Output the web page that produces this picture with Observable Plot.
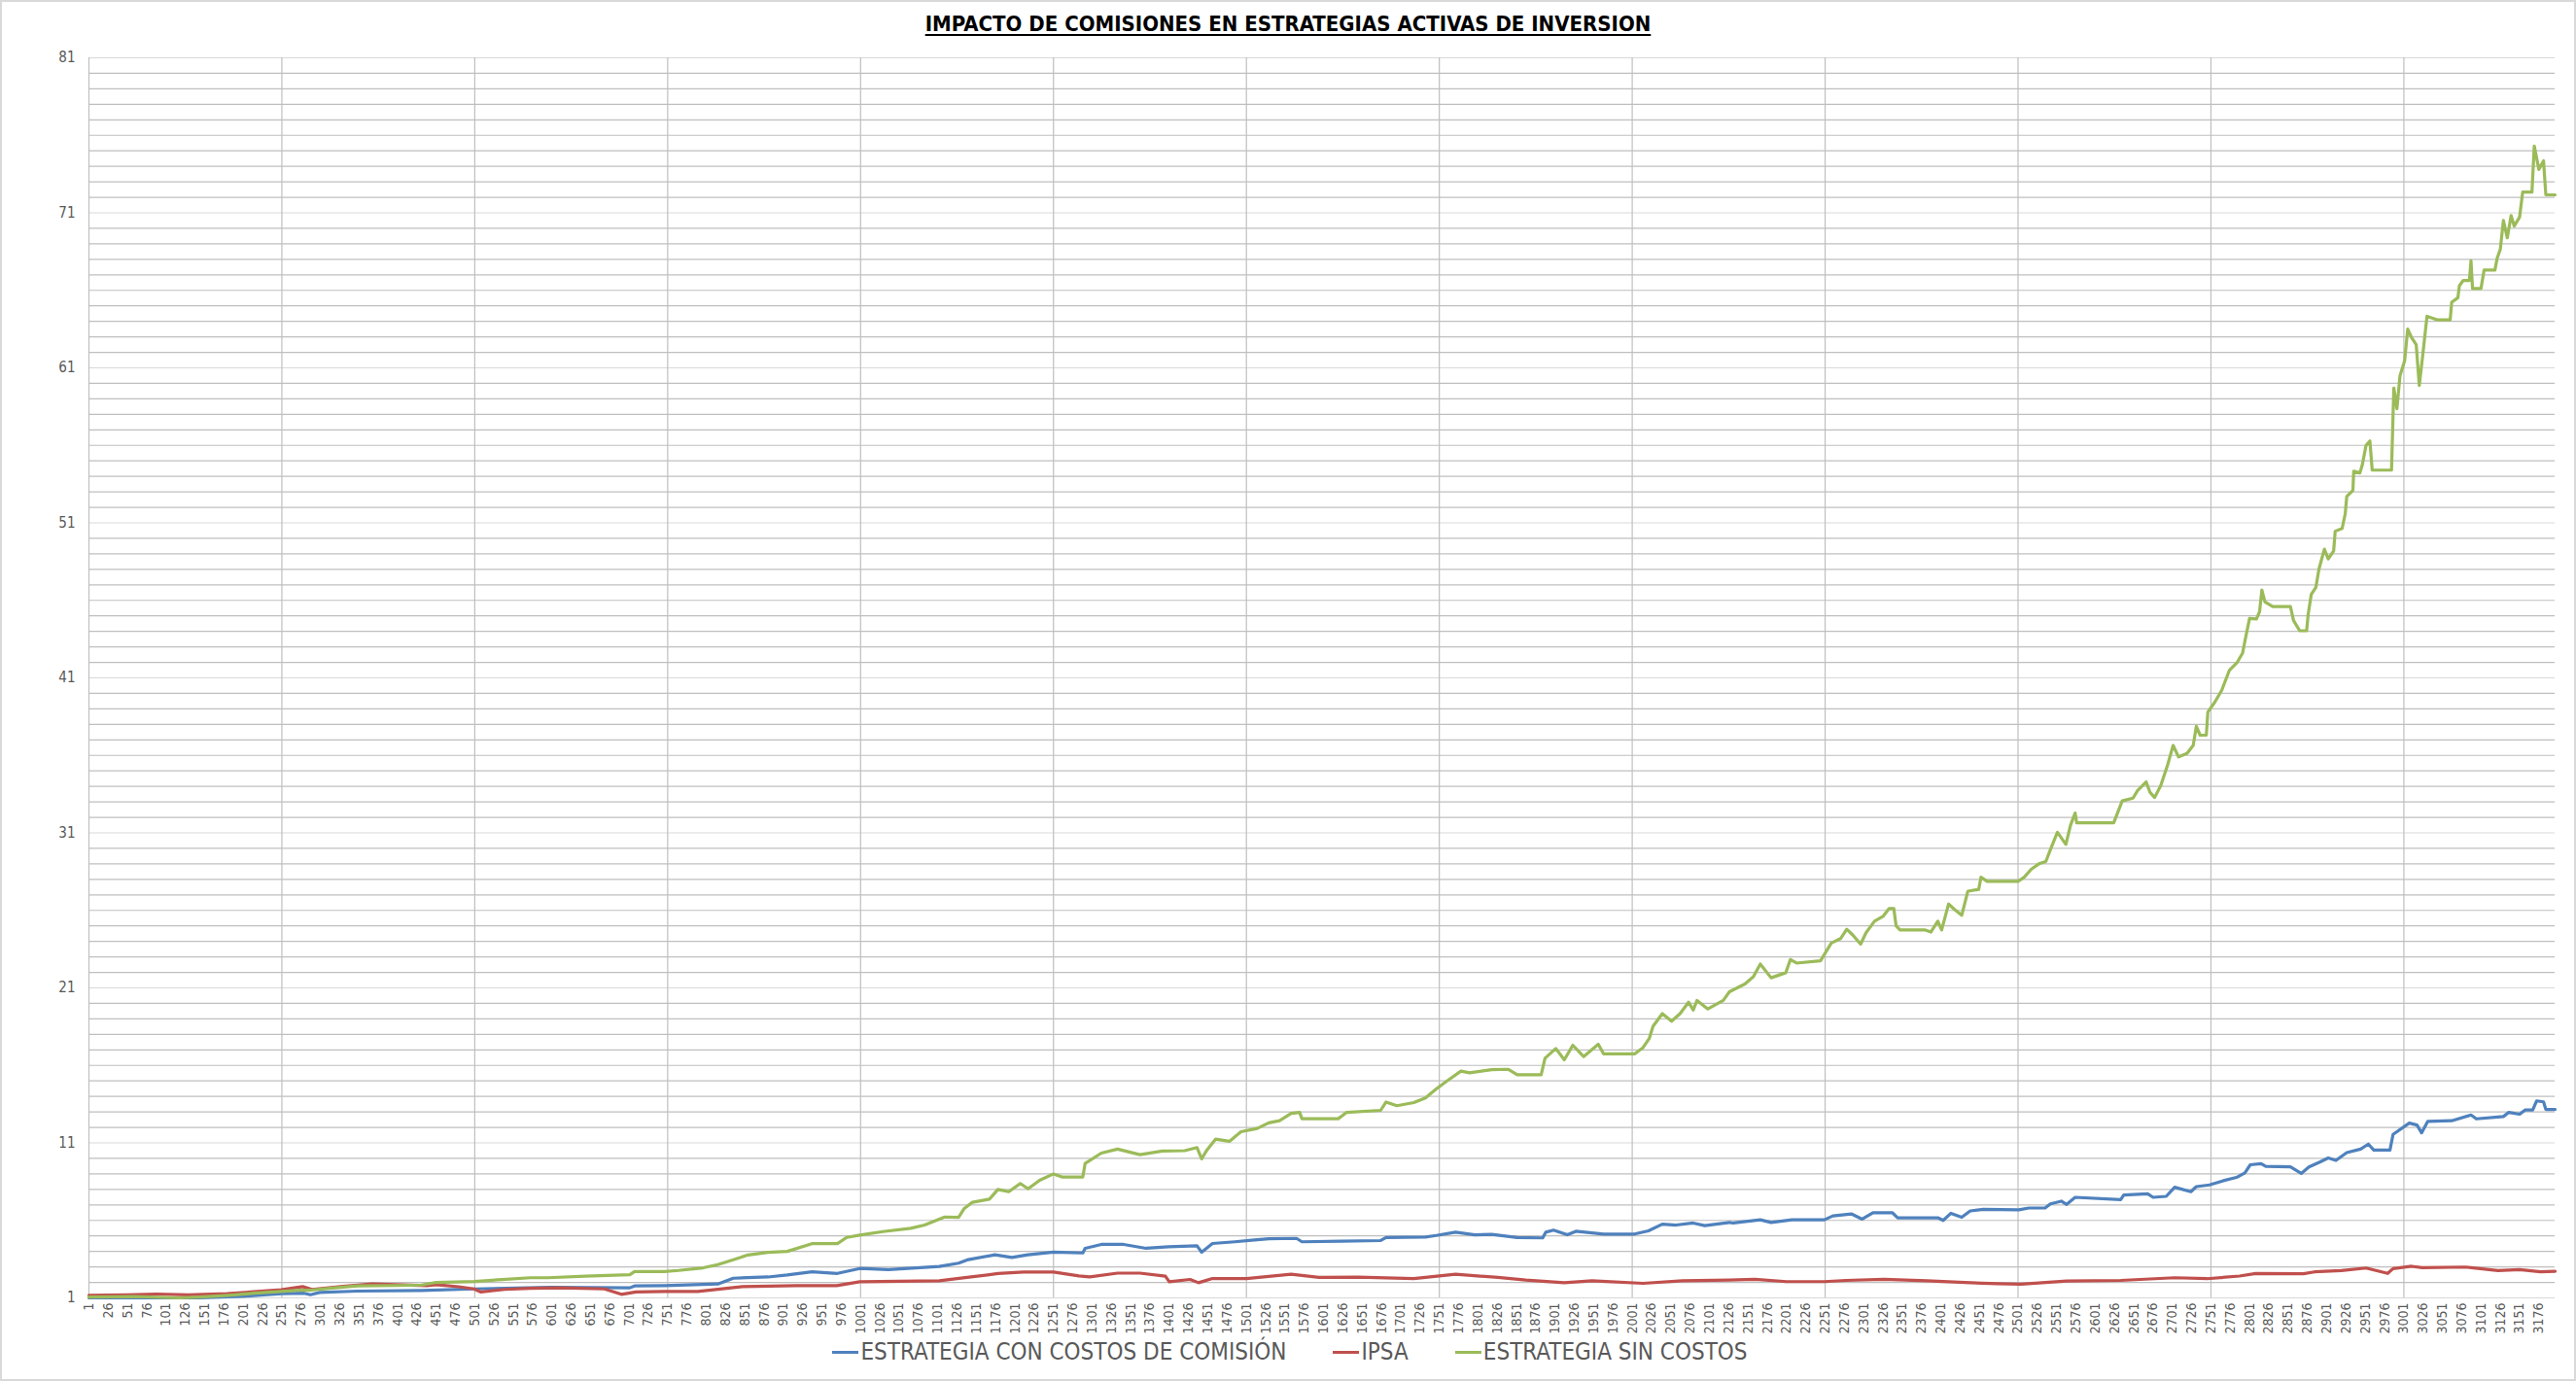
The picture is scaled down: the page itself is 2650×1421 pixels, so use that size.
<!DOCTYPE html>
<html>
<head>
<meta charset="utf-8">
<script src="https://cdn.jsdelivr.net/npm/d3@7"></script>
<script src="https://cdn.jsdelivr.net/npm/@observablehq/plot@0.6"></script>
<style>
  html, body { margin: 0; padding: 0; background: #fff; }
  #frame { position: relative; width: 2650px; height: 1421px; overflow: hidden; background: #fff;
    font-family: "Liberation Sans Narrow", "DejaVu Sans Condensed", "Liberation Sans", sans-serif; }
  #border { position: absolute; left: 0; top: 0; right: 0; bottom: 0; border: 2px solid #D9D9D9; box-sizing: border-box; pointer-events: none; }
  #title { height: 44px; box-sizing: border-box; padding-top: 12px; text-align: center; font-weight: bold; font-size: 22px;
    color: #000; text-decoration: underline; text-decoration-thickness: 2px; text-underline-offset: 3px; line-height: 26px; }
  #chart { height: 1331px; }
  #legend { display: flex; justify-content: center; align-items: center; height: 32px; font-size: 24px; color: #595959; gap: 0; padding-left: 4px; }
  .item { display: flex; align-items: center; margin: 0 24px; }
  .sw { width: 27px; height: 3px; margin-right: 2px; }
</style>
</head>
<body>
<div id="frame">
  <div id="title">IMPACTO DE COMISIONES EN ESTRATEGIAS ACTIVAS DE INVERSION</div>
  <div id="chart"></div>
  <div id="legend"></div>
  <div id="border"></div>
</div>
<script>
// ---- data ([day index, value]) ----
const seriesNames = ["ESTRATEGIA CON COSTOS DE COMISIÓN", "IPSA", "ESTRATEGIA SIN COSTOS"];
const seriesColors = ["#4F81BD", "#C0504D", "#9BBB59"];

const conCostos = [[1,1.0],[144,1.0],[200,1.1],[250,1.27],[280,1.3],[288,1.2],[300,1.35],[349,1.44],[432,1.48],[500,1.58],[599,1.69],[702,1.65],[708,1.77],[747,1.79],[816,1.9],[836,2.27],[881,2.35],[906,2.48],[938,2.69],[971,2.58],[1000,2.9],[1037,2.82],[1103,3.03],[1128,3.24],[1139,3.45],[1175,3.78],[1197,3.61],[1218,3.78],[1251,3.95],[1289,3.9],[1292,4.2],[1313,4.45],[1342,4.45],[1371,4.2],[1400,4.3],[1437,4.36],[1443,3.95],[1457,4.51],[1486,4.62],[1508,4.72],[1530,4.82],[1566,4.84],[1573,4.62],[1624,4.66],[1675,4.7],[1682,4.9],[1733,4.93],[1747,5.03],[1772,5.24],[1797,5.07],[1819,5.1],[1852,4.9],[1885,4.87],[1889,5.24],[1899,5.37],[1917,5.07],[1928,5.3],[1964,5.12],[2004,5.12],[2022,5.33],[2040,5.76],[2058,5.7],[2080,5.83],[2095,5.66],[2127,5.87],[2132,5.83],[2167,6.04],[2181,5.87],[2208,6.04],[2250,6.04],[2261,6.29],[2285,6.42],[2299,6.08],[2313,6.5],[2338,6.5],[2345,6.17],[2397,6.17],[2404,6.0],[2414,6.46],[2428,6.2],[2439,6.61],[2456,6.71],[2502,6.68],[2515,6.8],[2536,6.8],[2543,7.07],[2557,7.24],[2564,7.03],[2575,7.49],[2634,7.34],[2638,7.64],[2669,7.72],[2676,7.49],[2693,7.55],[2704,8.14],[2725,7.85],[2732,8.18],[2749,8.29],[2767,8.56],[2784,8.77],[2795,9.07],[2802,9.59],[2816,9.66],[2822,9.49],[2854,9.45],[2868,9.03],[2878,9.45],[2892,9.76],[2903,10.03],[2913,9.87],[2927,10.37],[2945,10.6],[2955,10.92],[2962,10.54],[2983,10.54],[2987,11.55],[3008,12.28],[3018,12.15],[3024,11.65],[3032,12.39],[3063,12.43],[3088,12.8],[3095,12.55],[3130,12.7],[3137,12.97],[3151,12.85],[3158,13.12],[3168,13.12],[3173,13.71],[3182,13.65],[3185,13.16],[3197,13.16]];

const ipsa = [[1,1.17],[50,1.2],[88,1.25],[130,1.2],[180,1.28],[250,1.52],[278,1.73],[290,1.55],[330,1.75],[368,1.9],[439,1.79],[451,1.85],[480,1.72],[500,1.58],[509,1.38],[540,1.55],[573,1.62],[611,1.65],[669,1.58],[691,1.23],[710,1.38],[747,1.42],[790,1.42],[848,1.73],[918,1.79],[970,1.79],[1000,2.04],[1103,2.1],[1139,2.32],[1179,2.57],[1212,2.67],[1251,2.67],[1284,2.42],[1298,2.36],[1334,2.6],[1363,2.6],[1396,2.4],[1401,2.04],[1428,2.19],[1439,1.98],[1457,2.25],[1501,2.25],[1559,2.53],[1595,2.32],[1646,2.34],[1718,2.25],[1772,2.53],[1827,2.32],[1863,2.15],[1913,1.98],[1949,2.1],[2015,1.94],[2066,2.1],[2127,2.15],[2160,2.2],[2201,2.05],[2250,2.05],[2278,2.13],[2327,2.2],[2383,2.1],[2432,1.99],[2474,1.92],[2505,1.88],[2564,2.09],[2634,2.13],[2704,2.3],[2746,2.24],[2788,2.41],[2809,2.58],[2871,2.56],[2885,2.68],[2920,2.76],[2952,2.93],[2980,2.58],[2987,2.89],[3011,3.04],[3025,2.95],[3081,2.99],[3123,2.76],[3151,2.83],[3178,2.68],[3197,2.72]];

const sinCostos = [[1,1.05],[60,1.08],[118,1.0],[144,1.05],[182,1.17],[215,1.3],[250,1.42],[275,1.5],[288,1.5],[320,1.65],[349,1.77],[400,1.8],[432,1.83],[451,2.0],[500,2.06],[541,2.2],[573,2.3],[596,2.3],[644,2.4],[702,2.5],[708,2.7],[747,2.7],[765,2.77],[797,2.94],[816,3.15],[836,3.46],[855,3.77],[881,3.94],[906,4.0],[938,4.5],[971,4.5],[983,4.9],[1000,5.05],[1030,5.28],[1066,5.49],[1084,5.7],[1110,6.22],[1128,6.2],[1135,6.75],[1146,7.17],[1168,7.37],[1179,8.0],[1193,7.85],[1208,8.38],[1218,8.04],[1233,8.59],[1251,9.0],[1262,8.8],[1289,8.8],[1292,9.67],[1313,10.34],[1334,10.6],[1363,10.24],[1392,10.47],[1421,10.5],[1437,10.7],[1443,9.97],[1450,10.55],[1461,11.24],[1479,11.1],[1494,11.72],[1515,11.93],[1530,12.29],[1544,12.43],[1559,12.9],[1570,12.97],[1573,12.56],[1620,12.56],[1631,12.97],[1675,13.1],[1682,13.64],[1696,13.4],[1718,13.6],[1733,13.9],[1747,14.48],[1761,15.0],[1779,15.63],[1790,15.52],[1819,15.73],[1840,15.75],[1852,15.4],[1883,15.4],[1888,16.46],[1902,17.09],[1913,16.36],[1924,17.3],[1938,16.57],[1957,17.36],[1964,16.74],[2004,16.74],[2015,17.15],[2023,17.73],[2028,18.52],[2040,19.34],[2052,18.85],[2063,19.34],[2074,20.08],[2080,19.57],[2085,20.19],[2099,19.64],[2119,20.19],[2127,20.75],[2147,21.25],[2158,21.72],[2167,22.54],[2181,21.65],[2200,21.98],[2206,22.83],[2214,22.6],[2245,22.75],[2259,23.89],[2271,24.18],[2279,24.78],[2287,24.4],[2297,23.82],[2304,24.56],[2315,25.3],[2326,25.61],[2334,26.12],[2340,26.12],[2343,25.0],[2348,24.74],[2380,24.74],[2388,24.6],[2397,25.3],[2402,24.74],[2411,26.41],[2419,26.05],[2428,25.68],[2436,27.24],[2450,27.35],[2453,28.14],[2461,27.87],[2501,27.87],[2509,28.14],[2518,28.65],[2529,29.03],[2537,29.15],[2543,29.93],[2552,31.04],[2563,30.26],[2569,31.49],[2575,32.28],[2577,31.65],[2625,31.65],[2636,33.06],[2650,33.24],[2656,33.73],[2667,34.29],[2672,33.62],[2678,33.28],[2686,34.06],[2695,35.41],[2702,36.64],[2709,35.9],[2720,36.12],[2728,36.64],[2732,37.87],[2737,37.3],[2745,37.3],[2747,38.8],[2756,39.43],[2765,40.2],[2775,41.5],[2785,42.0],[2792,42.6],[2795,43.37],[2801,44.83],[2810,44.8],[2814,45.27],[2817,46.66],[2821,45.9],[2831,45.6],[2854,45.6],[2858,44.71],[2866,44.04],[2875,44.04],[2877,45.09],[2881,46.39],[2887,46.84],[2891,48.02],[2898,49.3],[2903,48.67],[2910,49.19],[2912,50.46],[2921,50.64],[2925,51.58],[2927,52.7],[2935,53.1],[2936,54.33],[2944,54.22],[2947,54.71],[2952,56.0],[2957,56.28],[2960,54.4],[2985,54.4],[2988,59.7],[2992,58.36],[2996,60.49],[3002,61.45],[3006,63.5],[3011,62.95],[3017,62.5],[3021,59.86],[3025,61.6],[3031,64.33],[3044,64.1],[3061,64.1],[3063,65.23],[3071,65.52],[3073,66.3],[3078,66.64],[3086,66.64],[3088,67.91],[3090,66.12],[3101,66.12],[3105,67.31],[3119,67.31],[3122,68.09],[3126,68.65],[3130,70.51],[3135,69.39],[3140,70.82],[3144,70.15],[3151,70.73],[3155,72.34],[3167,72.34],[3170,75.3],[3176,73.8],[3182,74.36],[3185,72.16],[3197,72.16]];

const dayDomain = [1, 3197];
const xTickLabels = d3.range(1, 3177, 25);        // 1, 26, 51, ... 3176
const xGridDays = d3.range(1, 3002, 250);         // 1, 251, ... 3001
const yTickLabels = [1, 11, 21, 31, 41, 51, 61, 71, 81];
const yMinorGrid = d3.range(1, 82).filter(v => !yTickLabels.includes(v));

// ---- build table ----
const rows = [];
[conCostos, ipsa, sinCostos].forEach((arr, i) => {
  arr.forEach(([d, v]) => rows.push({serie: seriesNames[i], dia: d, valor: v}));
});

const chart = Plot.plot({
  width: 2650,
  height: 1331,
  marginLeft: 91,
  marginRight: 22,
  marginTop: 15,
  marginBottom: 40,
  style: {fontFamily: '"Liberation Sans Narrow", "DejaVu Sans Condensed", "Liberation Sans", sans-serif', fontSize: "14px", color: "#595959", background: "transparent"},
  x: {type: "linear", domain: dayDomain},
  y: {domain: [1, 81]},
  color: {domain: seriesNames, range: seriesColors},
  marks: [
    Plot.ruleY(yMinorGrid, {stroke: "#BFBFBF", strokeWidth: 1.2}),
    Plot.ruleY(yTickLabels, {stroke: "#D9D9D9", strokeWidth: 1.2}),
    Plot.ruleX(xGridDays, {stroke: "#BFBFBF", strokeWidth: 1.2}),
    Plot.axisY({ticks: yTickLabels, tickSize: 0, tickPadding: 14, tickFormat: d => String(d), label: null, fontSize: 15}),
    Plot.axisX({ticks: xTickLabels, tickSize: 0, tickPadding: 5, tickRotate: -90, tickFormat: d => String(d), label: null, fontSize: 14}),
    Plot.line(rows, {x: "dia", y: "valor", z: "serie", stroke: "serie", strokeWidth: 3.2, strokeLinejoin: "round", strokeLinecap: "round"})
  ]
});
document.getElementById("chart").appendChild(chart);

// ---- legend ----
const legend = document.getElementById("legend");
seriesNames.forEach((name, i) => {
  const item = document.createElement("div");
  item.className = "item";
  const sw = document.createElement("div");
  sw.className = "sw";
  sw.style.background = seriesColors[i];
  const t = document.createElement("span");
  t.textContent = name;
  item.appendChild(sw);
  item.appendChild(t);
  legend.appendChild(item);
});
</script>
</body>
</html>
